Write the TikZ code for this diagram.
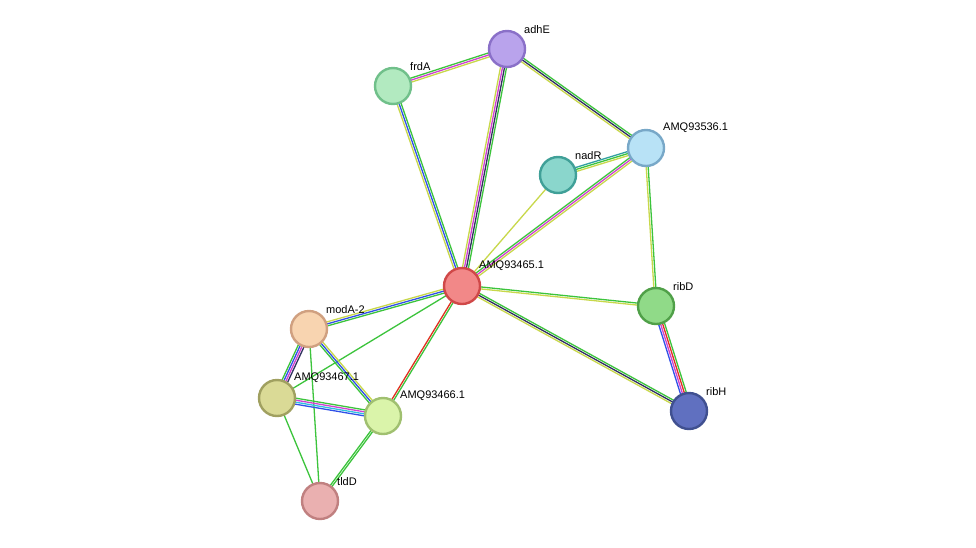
\documentclass[tikz,border=0pt]{standalone}
\usepackage{fontspec}
\setmainfont{Liberation Sans}
\usetikzlibrary{calc}
\definecolor{ecy}{HTML}{C8D84A}
\definecolor{ecg}{HTML}{3CC43C}
\definecolor{ecm}{HTML}{D040D0}
\definecolor{ecb}{HTML}{3050E8}
\definecolor{ecd}{HTML}{303060}
\definecolor{ecr}{HTML}{E03020}
\definecolor{ecc}{HTML}{30C0E0}
\definecolor{ect}{HTML}{30A0A0}
\definecolor{f1}{HTML}{B9A3EC}\definecolor{d1}{HTML}{8A70C8}
\definecolor{f2}{HTML}{B2EAC0}\definecolor{d2}{HTML}{70C08A}
\definecolor{f3}{HTML}{B8E2F6}\definecolor{d3}{HTML}{78A8C8}
\definecolor{f4}{HTML}{8AD6CC}\definecolor{d4}{HTML}{40A098}
\definecolor{f5}{HTML}{F28888}\definecolor{d5}{HTML}{D04848}
\definecolor{f6}{HTML}{90DA88}\definecolor{d6}{HTML}{50A048}
\definecolor{f7}{HTML}{F8D4B0}\definecolor{d7}{HTML}{D0A080}
\definecolor{f8}{HTML}{DADA96}\definecolor{d8}{HTML}{A0A060}
\definecolor{f9}{HTML}{DAF4AA}\definecolor{d9}{HTML}{A0C070}
\definecolor{f10}{HTML}{6070C0}\definecolor{d10}{HTML}{405090}
\definecolor{f11}{HTML}{EAB0B0}\definecolor{d11}{HTML}{C08080}
\tikzset{prot/.style={circle,minimum size=36pt,inner sep=0pt,fill=f#1,draw=d#1,line width=2.4pt},
lab/.style={font=\fontsize{11}{13}\selectfont,anchor=south west,inner sep=1pt}}
\newcommand{\edg}[3]{%
 \foreach \c [count=\i] in {#3} {\xdef\nn{\i}}%
 \foreach \c [count=\i] in {#3} {%
  \pgfmathsetmacro{\off}{(\i-(\nn+1)/2)*2}%
  \draw[draw=\c,line width=1.3pt] ($(#1)!\off pt!90:(#2)$) -- ($(#2)!\off pt!-90:(#1)$);}}
\begin{document}
\begin{tikzpicture}[x=1pt,y=-1pt]
\useasboundingbox[fill=white] (0,0) rectangle (976,547);
\coordinate (adhE) at (507,49);
\coordinate (frdA) at (393,86);
\coordinate (a536) at (646,148);
\coordinate (nadR) at (558,175);
\coordinate (a465) at (462,286);
\coordinate (ribD) at (656,306);
\coordinate (modA) at (309,329);
\coordinate (a467) at (277,398);
\coordinate (a466) at (383,416);
\coordinate (ribH) at (689,411);
\coordinate (tldD) at (320,501);
\edg{frdA}{adhE}{ecy,ecm,ecg}
\edg{frdA}{a465}{ecy,ecb,ecg}
\edg{adhE}{a465}{ecy,ecm,ecd,ecg}
\edg{adhE}{a536}{ecy,ecd,ecg}
\edg{nadR}{a536}{ecy,ecg,ect}
\edg{nadR}{a465}{ecy}
\edg{a536}{a465}{ecg,ecm,ecy}
\edg{a536}{ribD}{ecy,ecg}
\edg{a465}{ribD}{ecy,ecg}
\edg{a465}{ribH}{ecy,ecd,ecg}
\edg{ribD}{ribH}{ecb,ecm,ecr,ecg}
\edg{a465}{modA}{ecy,ecb,ecg}
\edg{a465}{a467}{ecg}
\edg{a465}{a466}{ecr,ecg}
\edg{modA}{a467}{ecg,ecb,ecm,ecd}
\edg{modA}{a466}{ecg,ecb,ecy}
\edg{modA}{tldD}{ecg}
\edg{a467}{tldD}{ecg}
\edg{a467}{a466}{ecb,ecc,ecm,ecg}
\edg{a466}{tldD}{ecg,ecg}
\node[prot=1] (nadhE) at (adhE) {};
\node[prot=2] (nfrdA) at (frdA) {};
\node[prot=3] (n536) at (a536) {};
\node[prot=4] (nnadR) at (nadR) {};
\node[prot=5] (n465) at (a465) {};
\node[prot=6] (nribD) at (ribD) {};
\node[prot=7] (nmodA) at (modA) {};
\node[prot=8] (n467) at (a467) {};
\node[prot=9] (n466) at (a466) {};
\node[prot=10] (nribH) at (ribH) {};
\node[prot=11] (ntldD) at (tldD) {};
\node[lab] at (523,35) {adhE};
\node[lab] at (409,72) {frdA};
\node[lab] at (662,134) {AMQ93536.1};
\node[lab] at (574,161) {nadR};
\node[lab] at (478,272) {AMQ93465.1};
\node[lab] at (672,292) {ribD};
\node[lab] at (325,315) {modA-2};
\node[lab] at (293,384) {AMQ93467.1};
\node[lab] at (399,402) {AMQ93466.1};
\node[lab] at (705,397) {ribH};
\node[lab] at (336,487) {tldD};
\end{tikzpicture}
\end{document}
